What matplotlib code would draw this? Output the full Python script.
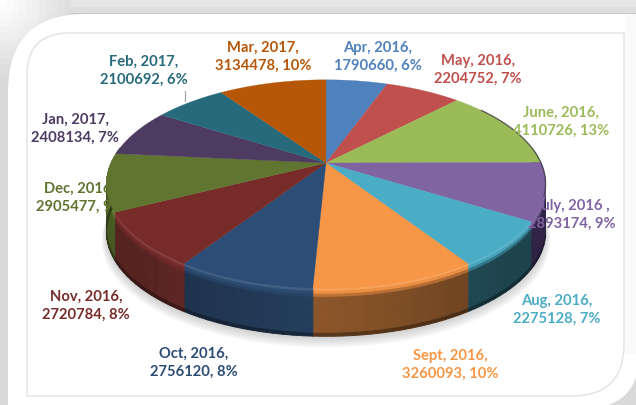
import numpy as np
import matplotlib
matplotlib.use('Agg')
import matplotlib.pyplot as plt
from matplotlib.collections import PolyCollection
from matplotlib.colors import to_rgb
from matplotlib.patches import Rectangle, PathPatch
from matplotlib.path import Path

months = ['Apr, 2016,', 'May, 2016,', 'June, 2016,', 'July, 2016 ,', 'Aug, 2016,', 'Sept, 2016,',
          'Oct, 2016,', 'Nov, 2016,', 'Dec, 2016,', 'Jan, 2017,', 'Feb, 2017,', 'Mar, 2017,']
values = [1790660, 2204752, 4110726, 2893174, 2275128, 3260093,
          2756120, 2720784, 2905477, 2408134, 2100692, 3134478]
percents = ['6%', '7%', '13%', '9%', '7%', '10%', '8%', '8%', '9%', '7%', '6%', '10%']
colors = ['#4f81bd', '#c0504d', '#9bbb59', '#8064a2', '#4bacc6', '#f79646',
          '#2c4d75', '#772c2a', '#5f7530', '#4d3b62', '#276a7c', '#b65708']
rim_colors = ['#2c4d75', '#6e2c2a', '#5a6e30', '#33264a', '#1f4651', '#6c4220',
              '#1c3048', '#5a2523', '#4c5e26', '#33264a', '#1f4651', '#6c4220']
label_x = [378, 478, 561, 572, 557, 450, 194, 86, 80, 75, 144, 263]
label_y = [57, 70, 122, 215, 310, 365, 363, 306, 198, 129, 71, 57]

plt.rcParams['font.family'] = ['Lato', 'DejaVu Sans']

fig = plt.figure(figsize=(6.36, 4.05), dpi=100)
ax = fig.add_axes([0, 0, 1, 1])
ax.set_xlim(0, 636)
ax.set_ylim(405, 0)
ax.axis('off')

cx, cy = 326, 163
a, s, k = 215, 100, 0.202
depth = 48


def project(th, r=1.0, drop=0.0):
    X = r * np.sin(th)
    Y = r * np.cos(th)
    d = 1 + k * Y
    return cx + a * X / d, cy - s * Y / d + drop


def shade(col, f):
    return np.clip(np.array(to_rgb(col)) * f, 0, 1)


def lighten(col, f):
    c = np.array(to_rgb(col))
    return c + (1 - c) * f


def round_box(x0, y0, x1, y1, tl, br):
    verts = [(x0 + tl, y0), (x1, y0), (x1, y1 - br), (x1, y1), (x1 - br, y1), (x0, y1), (x0, y0 + tl), (x0, y0), (x0 + tl, y0)]
    codes = [Path.MOVETO, Path.LINETO, Path.LINETO, Path.CURVE3, Path.CURVE3, Path.LINETO, Path.LINETO, Path.CURVE3, Path.CURVE3]
    return Path(verts, codes)


# background, blocky fade in the top left corner
yy, xx = np.mgrid[0:405:6.5, 0:636:6.5]
g = 0.85 + 0.15 * np.clip(1 - np.hypot(xx, yy) / 75, 0, 1)
ax.imshow(g, cmap='gray', vmin=0, vmax=1, extent=(0, 636, 405, 0), interpolation='nearest', aspect='auto', zorder=0)
ax.add_patch(Rectangle((70, 0), 566, 7, color='#e6e6e6', lw=0, zorder=0.5))
ax.add_patch(Rectangle((70, 7), 566, 5.5, color='#dedede', lw=0, zorder=0.5))
ax.add_patch(Rectangle((70, 12.5), 566, 1.5, color='#c8c8c8', lw=0, zorder=0.5))
ax.add_patch(PathPatch(round_box(8, 14, 640, 409, 78, 58), fc='white', ec='none', zorder=1))
ax.add_patch(Rectangle((625, 14), 15, 340, color='#fafafa', lw=0, zorder=1))
ax.add_patch(PathPatch(round_box(27, 33, 624, 396, 42, 52), fc='white', ec='#e4e4e4', lw=1.1, zorder=1.5))

# soft shadow
tt = np.linspace(0, 2 * np.pi, 200)
for i in range(8):
    px, py = project(tt, 1.0 + 0.003 * i, depth + 1 + i)
    ax.fill(px, py, color='#808080', alpha=0.05, lw=0, zorder=2)

fr = np.cumsum([0] + values) / sum(values) * 2 * np.pi

# rim, only the part of the circle that faces the viewer
layers = np.linspace(0, 1, 17)
for i, col in enumerate(colors):
    lo, hi = max(fr[i], np.pi * 0.45), min(fr[i + 1], np.pi * 1.55)
    if hi <= lo:
        continue
    ths = np.linspace(lo, hi, max(3, int((hi - lo) * 30)))
    quads, cols = [], []
    for j in range(len(ths) - 1):
        side = 0.95 + 0.35 * np.clip(1 - abs(ths[j] - np.pi) / 0.8, 0, 1)
        for n in range(16):
            t0, t1 = layers[n], layers[n + 1]
            x0, y0 = project(ths[j], 1, depth * t0)
            x1, y1 = project(ths[j + 1], 1, depth * t0)
            x2, y2 = project(ths[j + 1], 1, depth * t1)
            x3, y3 = project(ths[j], 1, depth * t1)
            quads.append([(x0, y0), (x1, y1), (x2, y2), (x3, y3)])
            t = (t0 + t1) / 2
            if t < 0.08:
                c = lighten(col, 0.1)
            elif t < 0.22:
                w = (t - 0.08) / 0.14
                c = (1 - w) * np.array(to_rgb(col)) + w * shade(rim_colors[i], side)
            elif t > 0.95:
                c = shade(rim_colors[i], side * 0.65)
            else:
                c = shade(rim_colors[i], side)
            cols.append(tuple(c))
    ax.add_collection(PolyCollection(quads, facecolors=cols, edgecolors=cols, linewidths=0.7, zorder=3))

# top face
for i, col in enumerate(colors):
    ths = np.linspace(fr[i], fr[i + 1], 60)
    px, py = project(ths)
    ax.fill(np.r_[cx, px], np.r_[cy, py], color=col, lw=0.2, zorder=4)

# dark edge on the far right of the top face
ths = np.linspace(np.pi * 0.3, np.pi * 0.6, 60)
px, py = project(ths)
ax.plot(px, py, color='#3a3040', lw=1.0, alpha=0.7, zorder=5)

for i in range(len(months)):
    ax.text(label_x[i], label_y[i], months[i] + '\n' + str(values[i]) + ', ' + percents[i], color=colors[i],
            fontsize=10.6, fontweight='bold', ha='center', va='center', linespacing=1.32, zorder=6)

ax.plot([184.5, 184.5], [91, 101], color='#a6a6a6', lw=0.9, zorder=5)

plt.savefig('out.png', dpi=100)
